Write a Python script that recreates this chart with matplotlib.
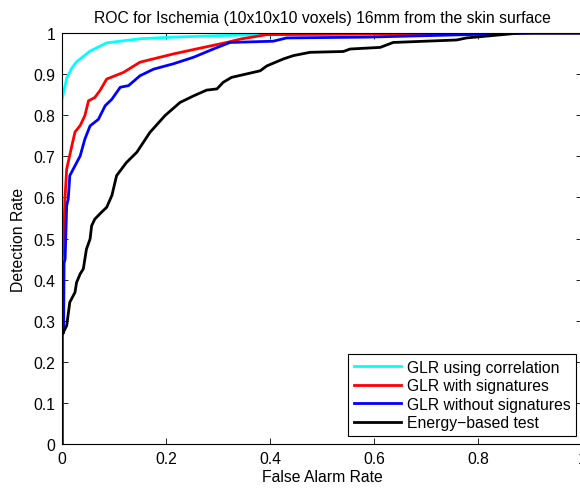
import matplotlib
matplotlib.use("Agg")
import matplotlib.pyplot as plt

# ROC curves
far_corr = [0, 0, 0.009, 0.019, 0.028, 0.054, 0.086, 0.15, 0.214, 0.34, 0.6, 0.88, 1.0]
det_corr = [0, 0.837, 0.89, 0.915, 0.93, 0.956, 0.976, 0.986, 0.99, 0.995, 0.997, 1.0, 1.0]

far_sig = [0, 0, 0.003, 0.006, 0.009, 0.019, 0.025, 0.035, 0.044, 0.051, 0.063, 0.073,
           0.086, 0.118, 0.15, 0.214, 0.265, 0.317, 0.342, 0.394, 0.6, 0.9, 1.0]
det_sig = [0, 0.44, 0.5, 0.604, 0.669, 0.726, 0.759, 0.775, 0.799, 0.835, 0.843, 0.86,
           0.888, 0.904, 0.929, 0.949, 0.963, 0.977, 0.985, 0.996, 0.998, 1.0, 1.0]

far_nosig = [0, 0, 0.003, 0.004, 0.006, 0.009, 0.012, 0.015, 0.025, 0.035, 0.044, 0.054,
             0.07, 0.083, 0.096, 0.112, 0.128, 0.15, 0.176, 0.214, 0.253, 0.291, 0.323,
             0.406, 0.432, 0.586, 0.906, 1.0]
det_nosig = [0, 0.27, 0.27, 0.44, 0.45, 0.58, 0.596, 0.653, 0.677, 0.701, 0.742, 0.774,
             0.79, 0.823, 0.839, 0.868, 0.872, 0.896, 0.912, 0.925, 0.941, 0.961, 0.977,
             0.98, 0.988, 0.99, 1.0, 1.0]

far_energy = [0, 0, 0.009, 0.015, 0.025, 0.028, 0.035, 0.041, 0.047, 0.054, 0.057, 0.063,
              0.076, 0.086, 0.096, 0.105, 0.124, 0.144, 0.169, 0.198, 0.227, 0.253, 0.278,
              0.298, 0.31, 0.326, 0.381, 0.394, 0.426, 0.445, 0.477, 0.541, 0.554, 0.612,
              0.637, 0.759, 0.778, 0.881, 1.0]
det_energy = [0, 0.265, 0.288, 0.345, 0.369, 0.393, 0.414, 0.426, 0.474, 0.499, 0.531, 0.547,
              0.564, 0.576, 0.605, 0.653, 0.685, 0.71, 0.758, 0.799, 0.831, 0.847, 0.861,
              0.864, 0.88, 0.892, 0.908, 0.92, 0.937, 0.945, 0.953, 0.955, 0.961, 0.965,
              0.977, 0.983, 0.988, 1.0, 1.0]

labels = ['GLR using correlation', 'GLR with signatures',
          'GLR without signatures', 'Energy\u2212based test']

plt.rcParams['font.family'] = ['Liberation Sans', 'DejaVu Sans']
fs = 11.3

fig = plt.figure(figsize=(5.8, 4.89), dpi=100)
ax = fig.add_axes([62 / 580, 1 - 445 / 489, 520 / 580, 411 / 489])

ax.plot(far_corr, det_corr, color='cyan', lw=2, label=labels[0])
ax.plot(far_sig, det_sig, color='red', lw=2, label=labels[1])
ax.plot(far_nosig, det_nosig, color='blue', lw=2, label=labels[2])
ax.plot(far_energy, det_energy, color='black', lw=2, label=labels[3])

ax.set_xlim(0, 1)
ax.set_ylim(0, 1)
ax.set_xticks([0, 0.2, 0.4, 0.6, 0.8, 1.0])
ax.set_xticklabels(['0', '0.2', '0.4', '0.6', '0.8', '1'])
ax.set_yticks([i / 10 for i in range(11)])
ax.set_yticklabels(['0', '0.1', '0.2', '0.3', '0.4', '0.5', '0.6', '0.7', '0.8', '0.9', '1'])
ax.tick_params(direction='in', top=True, right=True, length=4, width=0.6, pad=5,
               labelsize=fs)
for s in ax.spines.values():
    s.set_linewidth(0.8)

ax.set_xlabel('False Alarm Rate', fontsize=fs, labelpad=2)
ax.set_ylabel('Detection Rate', fontsize=fs, labelpad=5)
ax.set_title('ROC for Ischemia (10x10x10 voxels) 16mm from the skin surface',
             fontsize=fs, pad=8)

leg = ax.legend(loc='lower right', bbox_to_anchor=(0.988, 0.02), fancybox=False,
                edgecolor='black', framealpha=1, fontsize=fs, handlelength=3.0,
                handletextpad=0.36, labelspacing=0.22, borderpad=0.35, borderaxespad=0)
leg.get_frame().set_linewidth(0.8)

fig.savefig('out.png', dpi=100)
